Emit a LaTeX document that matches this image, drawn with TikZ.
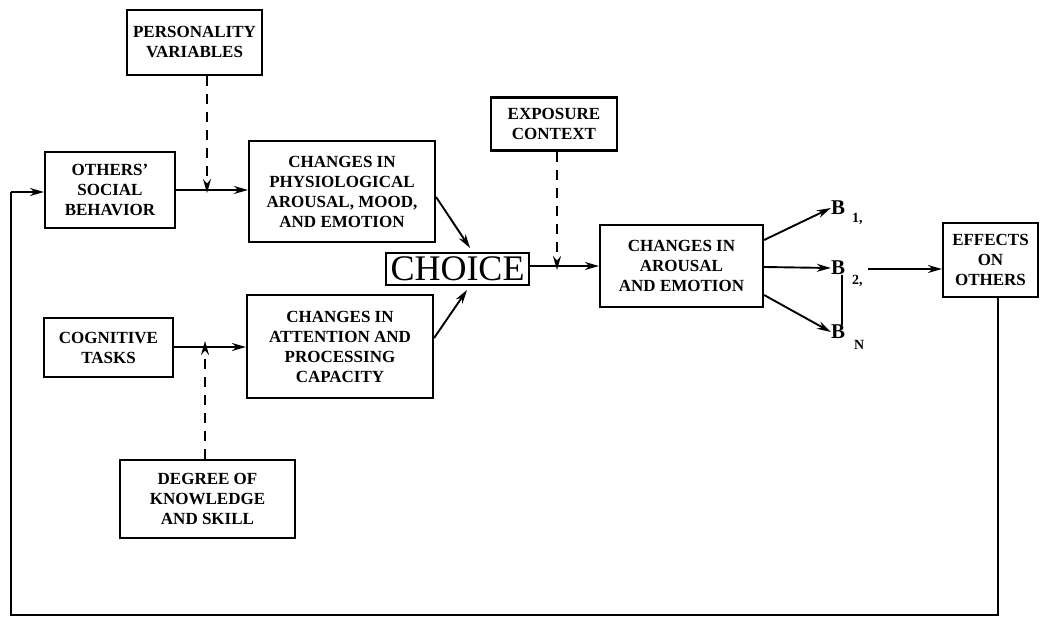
\documentclass[tikz,border=0pt]{standalone}
\usepackage{fontspec}
\setmainfont{Liberation Serif}
\usetikzlibrary{arrows.meta}
\begin{document}
\begin{tikzpicture}[x=1pt,y=-1pt,
  box/.style={draw,line width=2.2pt,align=center,inner sep=0pt,
    font=\bfseries\fontsize{17}{20}\selectfont},
  conn/.style={line width=1.9pt,-{Stealth[length=14pt,width=8pt]}},
  plain/.style={line width=1.9pt},
  dconn/.style={line width=1.9pt,dash pattern=on 10pt off 8pt,-{Stealth[length=14pt,width=8pt]}},
  blab/.style={inner sep=0pt,font=\bfseries\fontsize{21}{21}\selectfont},
  bsub/.style={inner sep=0pt,font=\bfseries\fontsize{14}{14}\selectfont}]
\useasboundingbox (0,0) rectangle (1042,618);
\node[box,minimum width=135pt,minimum height=65pt] (pers) at (194.5,42.5) {PERSONALITY\\VARIABLES};
\node[box,minimum width=130pt,minimum height=76pt] (others) at (110,190) {OTHERS'\\SOCIAL\\BEHAVIOR};
\node[box,minimum width=186pt,minimum height=101pt] (phys) at (342,191.5) {CHANGES IN\\PHYSIOLOGICAL\\AROUSAL, MOOD,\\AND EMOTION};
\node[box,minimum width=126pt,minimum height=53pt] (expo) at (554,124) {EXPOSURE\\CONTEXT};
\node[draw,line width=1.8pt,inner sep=0pt,minimum width=143pt,minimum height=32pt,font=\fontsize{36}{36}\selectfont] (choice) at (457.5,269) {CHOICE};
\node[box,minimum width=163pt,minimum height=82pt] (arous) at (681.5,266) {CHANGES IN\\AROUSAL\\AND EMOTION};
\node[box,minimum width=95pt,minimum height=74pt] (effects) at (990.5,260) {EFFECTS\\ON\\OTHERS};
\node[box,minimum width=129pt,minimum height=59pt] (cog) at (108.5,347.5) {COGNITIVE\\TASKS};
\node[box,minimum width=186pt,minimum height=103pt] (attn) at (340,346.5) {CHANGES IN\\ATTENTION AND\\PROCESSING\\CAPACITY};
\node[box,minimum width=175pt,minimum height=78pt] (degree) at (207.5,499) {DEGREE OF\\KNOWLEDGE\\AND SKILL};
% B labels
\node[blab] (b1) at (838,208) {B};
\node[bsub,anchor=west] (b1s) at (852,219) {1,};
\node[blab] (b2) at (838,268) {B};
\node[bsub,anchor=west] (b2s) at (852,281) {2,};
\node[blab] (bn) at (838,332) {B};
\node[bsub,anchor=west] (bns) at (854,345) {N};
% coordinates
\coordinate (j1) at (207,190);
\coordinate (j2) at (557,266);
\coordinate (j3) at (205,347);
\coordinate (c1) at (998,615);
\coordinate (c2) at (11,615);
\coordinate (c3) at (11,192);
% connectors
\draw[conn] (others.east |- j1) -- (phys.west |- j1);
\draw[dconn] (pers.south -| j1) -- ([yshift=-3pt]j1);
\draw[conn] (phys.east |- 0,197) -- (470,248);
\draw[conn] (attn.east |- 0,338) -- (467,290);
\draw[conn] (cog.east |- j3) -- (attn.west |- j3);
\draw[dconn] (degree.north -| j3) -- ([yshift=6pt]j3);
\draw[conn] (choice.east |- j2) -- (arous.west |- j2);
\draw[dconn] (expo.south -| j2) -- ([yshift=-4pt]j2);
\draw[conn] (arous.east |- 0,240) -- (b1.west);
\draw[conn] (arous.east |- 0,267) -- (b2.west);
\draw[conn] (arous.east |- 0,295) -- (bn.west);
\draw[plain] ([xshift=4pt]b2.south) -- ([xshift=4pt]bn.north);
\draw[conn] (868,269) -- (effects.west |- 0,269);
\draw[plain] (effects.south -| c1) -- (c1) -- (c2) -- (c3);
\draw[conn] (c3) -- (others.west |- c3);
\end{tikzpicture}
\end{document}
